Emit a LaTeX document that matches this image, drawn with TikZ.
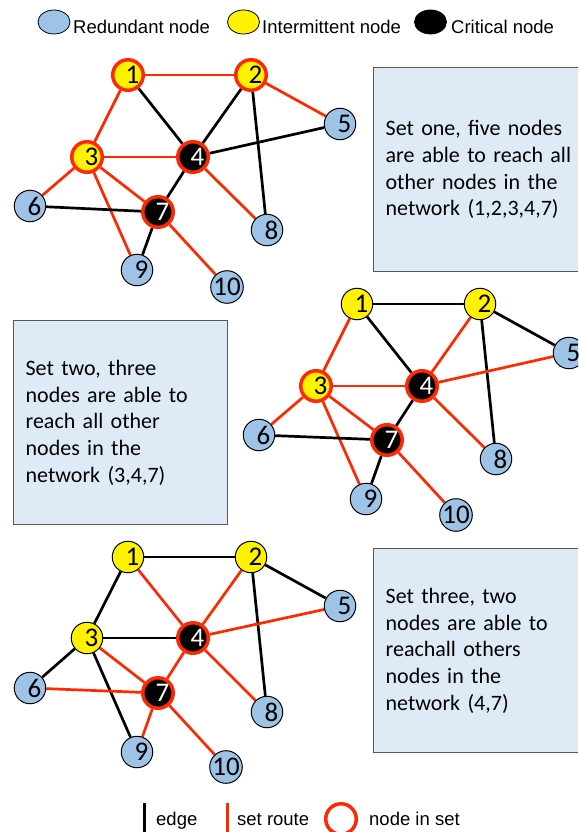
\documentclass[tikz,border=0pt]{standalone}
\usepackage{fontspec}
\setmainfont{Liberation Sans}
\newfontfamily\calib{Carlito}
\usetikzlibrary{shapes.geometric,backgrounds}

\definecolor{setred}{RGB}{255,40,0}
\definecolor{nodeblue}{RGB}{157,195,230}
\definecolor{boxfill}{RGB}{222,235,246}
\definecolor{boxline}{RGB}{89,89,89}

% single digits sit a little right of the circle centre
\newcommand\dg[1]{\kern9pt#1}

\tikzset{
  gn/.style={circle,minimum size=31.5pt,inner sep=0pt,line width=1pt,draw=black,
             font=\calib\fontsize{27}{27}\selectfont},
  redund/.style={gn,fill=nodeblue},
  inter/.style={gn,fill=yellow},
  crit/.style={gn,fill=black,text=white},
  inset/.style={draw=setred,line width=3.5pt,minimum size=30.5pt},
  edge/.style={draw=black,line width=2.7pt},
  route/.style={draw=setred,line width=2.7pt},
  infobox/.style={rectangle,draw=boxline,fill=boxfill,line width=1.3pt,
                  minimum height=204pt,text width=190pt,inner xsep=12pt,inner ysep=0pt,
                  align=left,anchor=north west,font=\calib\fontsize{22}{26.7}\selectfont},
  legtext/.style={anchor=base west,inner sep=0pt,font=\fontsize{18.5}{20}\selectfont},
  legoval/.style={ellipse,draw=black,line width=0.8pt,minimum width=32pt,minimum height=24pt,inner sep=0pt},
  legbar/.style={rectangle,inner sep=0pt,minimum width=3pt,minimum height=32pt,anchor=north},
}

\begin{document}
\begin{tikzpicture}[x=1pt,y=-1pt]
\useasboundingbox (0,0) rectangle (578,832);
\clip (0,0) rectangle (578,832);
\begin{scope}[on background layer]
  \fill[white] (0,0) rectangle (578,832);
\end{scope}

% ---- key for node kinds ----
\node[legoval,fill=nodeblue] (legR) at (54,22) {};
\node[legtext] (legRt) at (73,34) {Redundant node};
\node[legoval,fill=yellow] (legI) at (243.5,22) {};
\node[legtext] (legIt) at (262,34) {Intermittent node};
\node[legoval,fill=black] (legC) at (430.5,22) {};
\node[legtext] (legCt) at (451,34) {Critical node};

% ---- set one ----
\node[inter,inset] (a1) at (128,75) {\dg1};
\node[inter,inset] (a2) at (251,75) {\dg2};
\node[redund] (a5) at (340,124) {\dg5};
\node[inter,inset] (a3) at (87,157) {\dg3};
\node[crit,inset] (a4) at (193,157) {\dg4};
\node[redund] (a6) at (30,206) {\dg6};
\node[crit,inset] (a7) at (158,212) {\dg7};
\node[redund] (a8) at (267,230) {\dg8};
\node[redund] (a9) at (137,270) {\dg9};
\node[redund] (a10) at (227,287) {10};
\begin{scope}[on background layer]
  \draw[route] (a1) -- (a2);
  \draw[route] (a1) -- (a3);
  \draw[edge]  (a1) -- (a4);
  \draw[edge]  (a2) -- (a4);
  \draw[route] (a2) -- (a5);
  \draw[edge]  (a2) -- (a8);
  \draw[route] (a3) -- (a4);
  \draw[edge]  (a4) -- (a5);
  \draw[route] (a3) -- (a6);
  \draw[route] (a3) -- (a7);
  \draw[route] (a3) -- (a9);
  \draw[edge]  (a4) -- (a7);
  \draw[route] (a4) -- (a8);
  \draw[edge]  (a6) -- (a7);
  \draw[edge]  (a7) -- (a9);
  \draw[route] (a7) -- (a10);
\end{scope}
\node[infobox] (boxA) at (373,67) {Set one, five nodes\\are able to reach all\\other nodes in the\\network (1,2,3,4,7)};

% ---- set two ----
\begin{scope}[shift={(229,229)}]
\node[inter] (b1) at (128,75) {\dg1};
\node[inter] (b2) at (251,75) {\dg2};
\node[redund] (b5) at (340,124) {\dg5};
\node[inter,inset] (b3) at (87,157) {\dg3};
\node[crit,inset] (b4) at (193,157) {\dg4};
\node[redund] (b6) at (30,206) {\dg6};
\node[crit,inset] (b7) at (158,211) {\dg7};
\node[redund] (b8) at (267,230) {\dg8};
\node[redund] (b9) at (137,270) {\dg9};
\node[redund] (b10) at (227,286) {10};
\end{scope}
\begin{scope}[on background layer]
  \draw[edge]  (b1) -- (b2);
  \draw[route] (b1) -- (b3);
  \draw[edge]  (b1) -- (b4);
  \draw[route] (b2) -- (b4);
  \draw[edge]  (b2) -- (b5);
  \draw[edge]  (b2) -- (b8);
  \draw[route] (b3) -- (b4);
  \draw[route] (b4) -- (b5);
  \draw[route] (b3) -- (b6);
  \draw[route] (b3) -- (b7);
  \draw[route] (b3) -- (b9);
  \draw[edge]  (b4) -- (b7);
  \draw[route] (b4) -- (b8);
  \draw[edge]  (b6) -- (b7);
  \draw[edge]  (b7) -- (b9);
  \draw[route] (b7) -- (b10);
\end{scope}
\node[infobox] (boxB) at (13,320) {Set two, three\\nodes are able to\\reach all other\\nodes in the\\network (3,4,7)};

% ---- set three ----
\begin{scope}[shift={(0,481)}]
\node[inter] (c1) at (128,76) {\dg1};
\node[inter] (c2) at (251,76) {\dg2};
\node[redund] (c5) at (340,125) {\dg5};
\node[inter] (c3) at (87,157) {\dg3};
\node[crit,inset] (c4) at (193,157) {\dg4};
\node[redund] (c6) at (30,207) {\dg6};
\node[crit,inset] (c7) at (158,212) {\dg7};
\node[redund] (c8) at (267,231) {\dg8};
\node[redund] (c9) at (137,271) {\dg9};
\node[redund] (c10) at (226,286) {10};
\end{scope}
\begin{scope}[on background layer]
  \draw[edge]  (c1) -- (c2);
  \draw[edge]  (c1) -- (c3);
  \draw[route] (c1) -- (c4);
  \draw[route] (c2) -- (c4);
  \draw[edge]  (c2) -- (c5);
  \draw[edge]  (c2) -- (c8);
  \draw[edge]  (c3) -- (c4);
  \draw[route] (c4) -- (c5);
  \draw[edge]  (c3) -- (c6);
  \draw[route] (c3) -- (c7);
  \draw[edge]  (c3) -- (c9);
  \draw[route] (c4) -- (c7);
  \draw[route] (c4) -- (c8);
  \draw[route] (c6) -- (c7);
  \draw[route] (c7) -- (c9);
  \draw[route] (c7) -- (c10);
\end{scope}
\node[infobox] (boxC) at (373,548) {Set three, two\\nodes are able to\\reachall others\\nodes in the\\network (4,7)};

% ---- key for lines and set membership ----
\node[legbar,fill=black] (keyEdge) at (144,803) {};
\node[legtext] (keyEdget) at (156,825) {edge};
\node[legbar,fill=setred] (keyRoute) at (227,803) {};
\node[legtext] (keyRoutet) at (237,825) {set route};
\node[circle,inner sep=0pt,minimum size=30.5pt,draw=setred,line width=3.5pt] (keySet) at (341,819) {};
\node[legtext] (keySett) at (369,825) {node in set};
\end{tikzpicture}
\end{document}
